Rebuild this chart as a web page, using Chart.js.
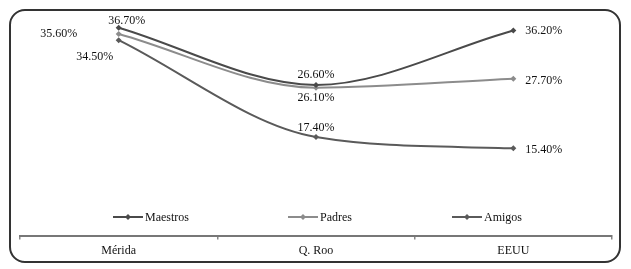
<!DOCTYPE html>
<html>
<head>
<meta charset="utf-8">
<script src="https://cdn.jsdelivr.net/npm/chart.js@4/dist/chart.umd.min.js"></script>
<style>
html,body{margin:0;padding:0;background:#fff;}
#wrap{position:relative;width:631px;height:269px;}
#frame{position:absolute;left:9px;top:9px;width:608px;height:250px;border:2px solid #333;border-radius:16px;pointer-events:none;}
canvas{position:absolute;left:0;top:0;}
</style>
</head>
<body>
<div id="wrap">
<canvas id="c" width="631" height="269"></canvas>
<div id="frame"></div>
</div>
<script>
const categories = ["Mérida", "Q. Roo", "EEUU"];
const seriesNames = ["Maestros", "Padres", "Amigos"];
const maestros = [36.7, 26.6, 36.2];
const padres = [35.6, 26.1, 27.7];
const amigos = [34.5, 17.4, 15.4];

const colors = ["#4a4a4a", "#8c8c8c", "#5a5a5a"];
// label placement (dx, dy, align) per series per point
const labelPos = [
  [[8,-7,"center"],[0,-10,"center"],[12,0,"left"]],
  [[-60,0,"center"],[0,10,"center"],[12,2,"left"]],
  [[-24,17,"center"],[0,-9,"center"],[12,1,"left"]]
];
const FONT = "12px 'Liberation Serif', 'Times New Roman', serif";

const labelPlugin = {
  id: "pctLabels",
  afterDatasetsDraw(chart) {
    const ctx = chart.ctx;
    ctx.save();
    ctx.font = FONT;
    ctx.fillStyle = "#111";
    ctx.textBaseline = "middle";
    chart.data.datasets.forEach((ds, di) => {
      const meta = chart.getDatasetMeta(di);
      meta.data.forEach((pt, i) => {
        const p = labelPos[di][i];
        ctx.textAlign = p[2];
        ctx.fillText(ds.data[i].toFixed(2) + "%", pt.x + p[0], pt.y + p[1]);
      });
    });
    ctx.restore();
  }
};

const legendPlugin = {
  id: "innerLegend",
  afterDraw(chart) {
    const ctx = chart.ctx;
    const xs = [113, 288, 452];
    const y = 217;
    ctx.save();
    ctx.font = FONT;
    ctx.textBaseline = "middle";
    ctx.textAlign = "left";
    chart.data.datasets.forEach((ds, di) => {
      const x = xs[di];
      ctx.strokeStyle = ds.borderColor;
      ctx.lineWidth = 2;
      ctx.beginPath();
      ctx.moveTo(x, y);
      ctx.lineTo(x + 30, y);
      ctx.stroke();
      ctx.fillStyle = ds.borderColor;
      ctx.beginPath();
      ctx.moveTo(x + 15, y - 3);
      ctx.lineTo(x + 18, y);
      ctx.lineTo(x + 15, y + 3);
      ctx.lineTo(x + 12, y);
      ctx.closePath();
      ctx.fill();
      ctx.fillStyle = "#111";
      ctx.fillText(ds.label, x + 32, y + 1);
    });
    ctx.restore();
  }
};

const seriesData = [maestros, padres, amigos];
new Chart(document.getElementById("c"), {
  type: "line",
  data: {
    labels: categories,
    datasets: seriesNames.map((n, i) => ({
      label: n,
      data: seriesData[i],
      borderColor: colors[i],
      backgroundColor: colors[i],
      borderWidth: 2,
      cubicInterpolationMode: "monotone",
      pointStyle: "rectRot",
      pointRadius: 3,
      pointBorderWidth: 0,
      fill: false
    }))
  },
  options: {
    responsive: false,
    animation: false,
    layout: { padding: { left: 20, right: 19, top: 9, bottom: 7 } },
    plugins: { legend: { display: false }, tooltip: { enabled: false } },
    scales: {
      x: {
        offset: true,
        grid: { offset: true, drawOnChartArea: false, drawTicks: true, tickLength: 4, color: "#888", lineWidth: 1.5 },
        border: { display: true, color: "#777", width: 2 },
        ticks: { font: { family: "'Liberation Serif', 'Times New Roman', serif", size: 12 }, color: "#111", padding: 4 }
      },
      y: { display: false, min: 0, max: 40 }
    }
  },
  plugins: [labelPlugin, legendPlugin]
});
</script>
</body>
</html>
